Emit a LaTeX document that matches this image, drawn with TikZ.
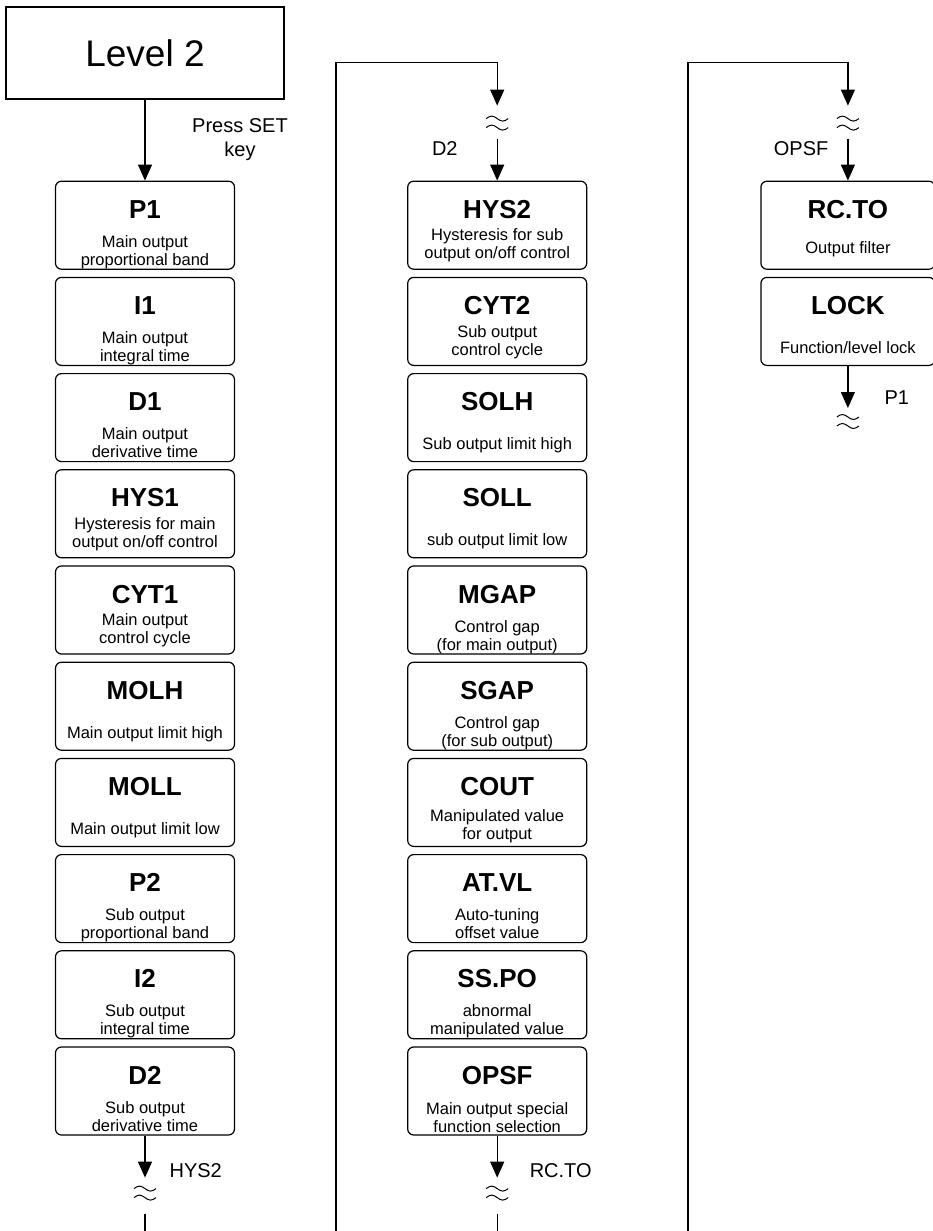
\documentclass[tikz,border=0pt]{standalone}
\usepackage{fontspec}
\setmainfont{Liberation Sans}
\usetikzlibrary{positioning,arrows.meta}

% title on top, description below; #1 = gap between them
\newcommand{\stepcell}[3][11pt]{%
  \parbox[c][88pt][t]{174pt}{\centering\vspace*{19pt}%
    \fontsize{26}{30}\selectfont\bfseries #2\par\vspace{#1}%
    \fontsize{16.5}{18}\selectfont\mdseries #3\par}}

\tikzset{brk/.pic={
  \draw[line width=1pt] (-11,0) sin (-5.5,2.5) cos (0,0) sin (5.5,-2.5) cos (11,0);
  \draw[line width=1pt] (-11,-9) sin (-5.5,-6.5) cos (0,-9) sin (5.5,-11.5) cos (11,-9);
}}

\begin{document}
\begin{tikzpicture}[x=1pt, y=1pt,
  node distance=7pt,
  line width=1.2pt,
  stepbox/.style={draw, rounded corners=6pt, minimum width=179pt, minimum height=88pt,
                  inner sep=0pt, fill=white},
  lvlbox/.style={draw, minimum width=278pt, minimum height=92pt, inner sep=0pt,
                 font=\fontsize{37}{40}\selectfont},
  lbl/.style={font=\fontsize{20}{24}\selectfont, inner sep=0pt},
  >={Triangle[length=16pt, width=14pt]}
]
\useasboundingbox (0,0) rectangle (933,-1231);

% column 1
\node[lvlbox] (lvl) at (145,-53) {Level 2};
\node[stepbox, below=81pt of lvl] (p1) {\stepcell{P1}{Main output\\proportional band}};
\node[stepbox, below=of p1] (i1) {\stepcell{I1}{Main output\\integral time}};
\node[stepbox, below=of i1] (d1) {\stepcell{D1}{Main output\\derivative time}};
\node[stepbox, below=of d1] (hys1) {\stepcell[4.5pt]{HYS1}{Hysteresis for main\\output on/off control}};
\node[stepbox, below=of hys1] (cyt1) {\stepcell[4.5pt]{CYT1}{Main output\\control cycle}};
\node[stepbox, below=of cyt1] (molh) {\stepcell[21pt]{MOLH}{Main output limit high}};
\node[stepbox, below=of molh] (moll) {\stepcell[21pt]{MOLL}{Main output limit low}};
\node[stepbox, below=of moll] (p2) {\stepcell{P2}{Sub output\\proportional band}};
\node[stepbox, below=of p2] (i2) {\stepcell{I2}{Sub output\\integral time}};
\node[stepbox, below=of i2] (d2) {\stepcell{D2}{Sub output\\derivative time}};

% column 2
\node[stepbox, right=172pt of p1] (hys2) {\stepcell[4.5pt]{HYS2}{Hysteresis for sub\\output on/off control}};
\node[stepbox, below=of hys2] (cyt2) {\stepcell[4.5pt]{CYT2}{Sub output\\control cycle}};
\node[stepbox, below=of cyt2] (solh) {\stepcell[21pt]{SOLH}{Sub output limit high}};
\node[stepbox, below=of solh] (soll) {\stepcell[21pt]{SOLL}{sub output limit low}};
\node[stepbox, below=of soll] (mgap) {\stepcell{MGAP}{Control gap\\(for main output)}};
\node[stepbox, below=of mgap] (sgap) {\stepcell{SGAP}{Control gap\\(for sub output)}};
\node[stepbox, below=of sgap] (cout) {\stepcell[7.5pt]{COUT}{Manipulated value\\for output}};
\node[stepbox, below=of cout] (atvl) {\stepcell{AT.VL}{Auto-tuning\\offset value}};
\node[stepbox, below=of atvl] (sspo) {\stepcell{SS.PO}{abnormal\\manipulated value}};
\node[stepbox, below=of sspo] (opsf) {\stepcell[12pt]{OPSF}{Main output special\\function selection}};

% column 3
\node[stepbox, minimum width=173pt, right=173pt of hys2] (rcto) {\stepcell[17pt]{RC.TO}{Output filter}};
\node[stepbox, minimum width=173pt, below=of rcto] (lock) {\stepcell[21pt]{LOCK}{Function/level lock}};

% entry
\draw[->] (lvl) -- (p1);
\node[lbl, align=center] (setkey) at (240,-140) {Press SET\\key};

% column 1 -> column 2
\coordinate (j2) at (336,-1231);
\coordinate[below=42pt of d2] (e1);
\draw[->] (d2) -- (e1);
\pic at ([yshift=-11pt]e1) {brk};
\coordinate[below=36pt of e1] (f1);
\draw (f1) -- (f1 |- j2);
\node[lbl, anchor=base west] (lhys2) at ([xshift=24pt]e1) {HYS2};

\coordinate[above=75pt of hys2] (t2);
\coordinate[above=43pt of t2] (h2);
\draw[->] (j2) |- (h2) -- (t2);
\pic at ([yshift=-13pt]t2) {brk};
\coordinate[below=33pt of t2] (s2);
\draw[->] (s2) -- (hys2);
\node[lbl, anchor=base east] (ld2) at ([shift={(-39pt,25pt)}]hys2.north) {D2};

% column 2 -> column 3
\coordinate (j3) at (688,-1231);
\coordinate[below=42pt of opsf] (e2);
\draw[->] (opsf) -- (e2);
\pic at ([yshift=-11pt]e2) {brk};
\coordinate[below=36pt of e2] (f2);
\draw (f2) -- (f2 |- j3);
\node[lbl, anchor=base west] (lrcto) at ([xshift=32pt]e2) {RC.TO};

\coordinate[above=75pt of rcto] (t3);
\coordinate[above=43pt of t3] (h3);
\draw[->] (j3) |- (h3) -- (t3);
\pic at ([yshift=-13pt]t3) {brk};
\coordinate[below=33pt of t3] (s3);
\draw[->] (s3) -- (rcto);
\node[lbl, anchor=base east] (lopsf) at ([shift={(-19pt,25pt)}]rcto.north) {OPSF};

% back to start
\coordinate[below=42pt of lock] (e3);
\draw[->] (lock) -- (e3);
\pic at ([yshift=-9pt]e3) {brk};
\node[lbl, anchor=base west] (lp1) at ([shift={(36pt,4pt)}]e3) {P1};
\end{tikzpicture}
\end{document}
